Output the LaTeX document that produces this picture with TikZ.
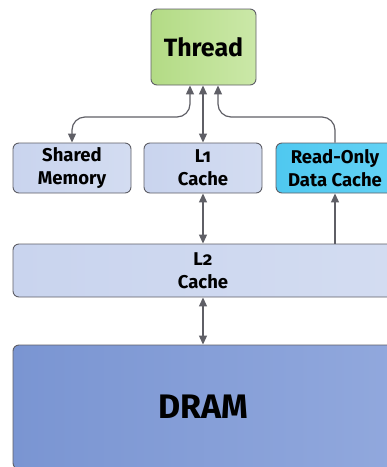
\documentclass[tikz,border=0pt]{standalone}
\usepackage{fontspec}
\setmainfont{Fira Sans}[Numbers=OldStyle]
\usetikzlibrary{arrows.meta}
\definecolor{boxline}{HTML}{5E5E66}
\definecolor{linkgray}{HTML}{5F5F66}
\definecolor{threadA}{HTML}{B3DB85}
\definecolor{threadB}{HTML}{CBE8A8}
\definecolor{cacheA}{HTML}{C9D4EE}
\definecolor{cacheB}{HTML}{D3DCF1}
\definecolor{roA}{HTML}{4FC8F0}
\definecolor{roB}{HTML}{63D2F5}
\definecolor{dramA}{HTML}{7A95D2}
\definecolor{dramB}{HTML}{91A8DD}
\begin{document}
\begin{tikzpicture}[
    x=1pt, y=-1pt,
    every node/.style={draw=boxline, line width=0.9pt, rounded corners=6pt, align=center, font=\bfseries, text=black, inner sep=0pt},
    mem/.style={left color=cacheA, right color=cacheB, font=\bfseries\fontsize{18.5}{23}\selectfont},
    link/.style={draw=linkgray, line width=1.2pt, rounded corners=13pt, {Triangle[length=9pt,width=8pt]}-{Triangle[length=9pt,width=8pt]}}
]
    \clip (0,0) rectangle (387,467);
    \node [left color=threadA, right color=threadB, minimum width=105pt, minimum height=76pt, font=\bfseries\fontsize{25}{30}\selectfont] (thread) at (203.5,47) {Thread};
    \node [mem, minimum width=118pt, minimum height=50pt] (shared) at (72,168) {Shared\\Memory};
    \node [mem, minimum width=118pt, minimum height=50pt] (l1) at (203,168) {L1\\Cache};
    \node [mem, left color=roA, right color=roB, minimum width=118pt, minimum height=50pt] (ro) at (335,168) {Read-Only\\Data Cache};
    \node [mem, minimum width=380pt, minimum height=53pt] (l2) at (203,270.5) {L2\\Cache};
    \node [left color=dramA, right color=dramB, minimum width=380pt, minimum height=124pt, font=\bfseries\fontsize{34}{40}\selectfont] (dram) at (203,407) {DRAM};
    % links between the levels
    \draw [link] (shared.north) |- (190,117) -- (thread.south -| 190,0);
    \draw [link] (l1.north) -- (l1.north |- thread.south);
    \draw [link, {Triangle[length=9pt,width=8pt]}-] (thread.south -| 218,0) |- (335,117) -- (ro.north);
    \draw [link] (l1.south) -- (l1.south |- l2.north);
    \draw [link] (l2.south) -- (dram.north);
    \draw [link, -{Triangle[length=9pt,width=8pt]}] (l2.north -| ro) -- (ro.south);
\end{tikzpicture}
\end{document}
